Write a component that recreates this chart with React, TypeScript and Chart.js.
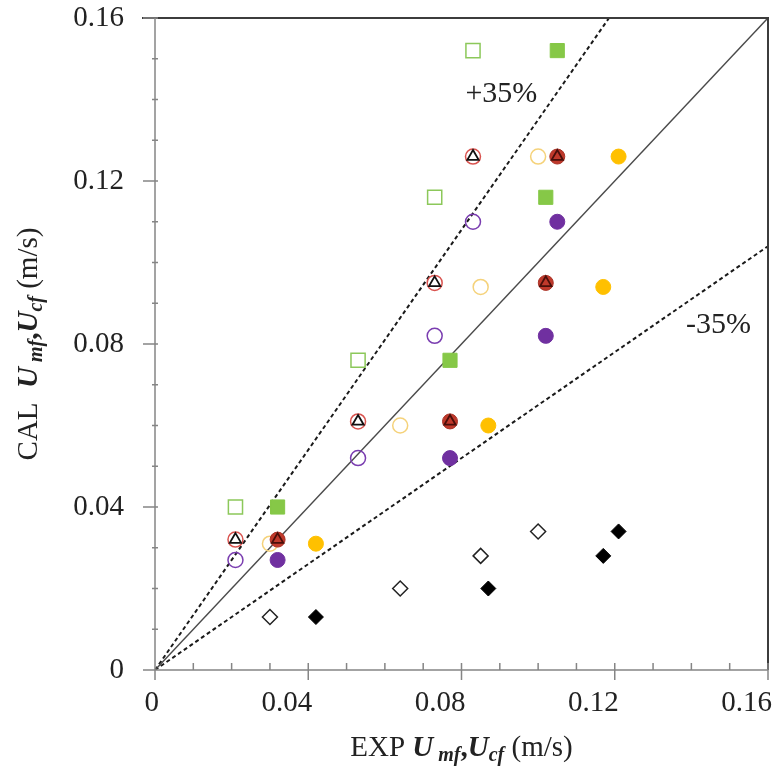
import React, { useEffect, useRef } from 'react';
import { Chart, registerables } from 'chart.js';
Chart.register(...registerables);

// EXP values (x)
const expUmfOpen = [0.021, 0.053, 0.073, 0.083];
const expUmfFilled = [0.032, 0.077, 0.102, 0.105];
const expUcfOpen = [0.030, 0.064, 0.085, 0.100];
const expUcfFilled = [0.042, 0.087, 0.117, 0.121];
// CAL values (y)
const calGreen = [0.040, 0.076, 0.116, 0.152];
const calRed = [0.032, 0.061, 0.095, 0.126];
const calYellow = [0.031, 0.060, 0.094, 0.126];
const calPurple = [0.027, 0.052, 0.082, 0.110];
const calDiamond = [0.013, 0.020, 0.028, 0.034];
// reference lines
const diagX = [0, 0.16];
const diagY = [0, 0.16];
const plus35X = [0, 0.1185];
const plus35Y = [0, 0.16];
const minus35X = [0, 0.16];
const minus35Y = [0, 0.104];
// annotations
const annotationText = ['+35%', '-35%'];
const annotationX = [0.0904, 0.1471];
const annotationY = [0.1394, 0.0827];
// ticks
const majorTicks = [0, 0.04, 0.08, 0.12, 0.16];
const minorTicks = [0.01, 0.02, 0.03, 0.05, 0.06, 0.07, 0.09, 0.1, 0.11, 0.13, 0.14, 0.15];

const SERIF = '"Liberation Serif", "Times New Roman", serif';

const pts = (xs: number[], ys: number[]) => xs.map((x, i) => ({ x, y: ys[i] }));

type Part = { t: string; f: string; dy?: number };

function drawRich(ctx: CanvasRenderingContext2D, parts: Part[], cx: number, baseline: number) {
  let total = 0;
  for (const p of parts) { ctx.font = p.f; total += ctx.measureText(p.t).width; }
  let x = cx - total / 2;
  ctx.textAlign = 'left';
  ctx.textBaseline = 'alphabetic';
  for (const p of parts) {
    ctx.font = p.f;
    ctx.fillText(p.t, x, baseline + (p.dy || 0));
    x += ctx.measureText(p.t).width;
  }
}

const titleParts = (prefix: string): Part[] => [
  { t: prefix, f: `29px ${SERIF}` },
  { t: 'U', f: `italic bold 29px ${SERIF}` },
  { t: ' mf', f: `italic bold 20px ${SERIF}`, dy: 5 },
  { t: ',', f: `bold 29px ${SERIF}` },
  { t: 'U', f: `italic bold 29px ${SERIF}` },
  { t: 'cf', f: `italic bold 20px ${SERIF}`, dy: 5 },
  { t: ' (m/s)', f: `29px ${SERIF}` },
];

const decorPlugin = {
  id: 'decor',
  afterDraw(chart: any) {
    const { ctx, chartArea: ca, scales } = chart;
    const xs = scales.x, ys = scales.y;
    ctx.save();
    // frame top/right
    ctx.strokeStyle = '#3c3c3c';
    ctx.lineWidth = 2;
    ctx.beginPath();
    ctx.moveTo(ca.left - 13, ca.top);
    ctx.lineTo(ca.right, ca.top);
    ctx.lineTo(ca.right, ca.bottom);
    ctx.stroke();
    // axes
    ctx.strokeStyle = '#858585';
    ctx.lineWidth = 1.5;
    ctx.beginPath();
    ctx.moveTo(ca.left, ca.top);
    ctx.lineTo(ca.left, ca.bottom);
    ctx.lineTo(ca.right, ca.bottom);
    for (const v of majorTicks) {
      const px = xs.getPixelForValue(v);
      ctx.moveTo(px, ca.bottom - 7);
      ctx.lineTo(px, ca.bottom + 10);
      const py = ys.getPixelForValue(v);
      ctx.moveTo(ca.left - 12, py);
      ctx.lineTo(ca.left + 3, py);
    }
    for (const v of minorTicks) {
      const px = xs.getPixelForValue(v);
      ctx.moveTo(px, ca.bottom - 7);
      ctx.lineTo(px, ca.bottom);
      const py = ys.getPixelForValue(v);
      ctx.moveTo(ca.left - 3, py);
      ctx.lineTo(ca.left + 3, py);
    }
    ctx.stroke();
    // annotations
    ctx.fillStyle = '#222';
    ctx.font = `30px ${SERIF}`;
    ctx.textAlign = 'center';
    ctx.textBaseline = 'alphabetic';
    annotationText.forEach((t, i) => {
      ctx.fillText(t, xs.getPixelForValue(annotationX[i]), ys.getPixelForValue(annotationY[i]));
    });
    // axis titles
    drawRich(ctx, titleParts('EXP '), (ca.left + ca.right) / 2, 756);
    ctx.translate(37, (ca.top + ca.bottom) / 2);
    ctx.rotate(-Math.PI / 2);
    drawRich(ctx, titleParts('CAL  '), 0, 0);
    ctx.restore();
  },
};

const zeroPad = (s: any) => { s.paddingTop = 0; s.paddingBottom = 0; s.paddingLeft = 0; s.paddingRight = 0; };

export default function App() {
  const ref = useRef<HTMLCanvasElement>(null);
  useEffect(() => {
    if (!ref.current) return;
    const marker = (label: string, data: any[], style: string, r: number, fill: string, border: string, bw: number, order: number) => ({
      label, data, pointStyle: style, pointRadius: r, pointHoverRadius: r,
      backgroundColor: fill, borderColor: border, pointBorderWidth: bw, borderWidth: bw, showLine: false, order,
    });
    const line = (label: string, data: any[], color: string, width: number, dash: number[]) => ({
      label, data, showLine: true, borderColor: color, borderWidth: width, borderDash: dash,
      pointRadius: 0, fill: false, order: 20,
    });
    const chart = new Chart(ref.current, {
      type: 'scatter',
      data: {
        datasets: [
          line('y=x', pts(diagX, diagY), '#4a4a4a', 1.5, []),
          line('+35%', pts(plus35X, plus35Y), '#1a1a1a', 2, [4, 3]),
          line('-35%', pts(minus35X, minus35Y), '#1a1a1a', 2, [4, 3]),
          marker('green open', pts(expUmfOpen, calGreen), 'rect', 10, 'rgba(255,255,255,0)', '#8CC85A', 1.5, 5),
          marker('green filled', pts(expUmfFilled, calGreen), 'rect', 10, '#86C847', '#86C847', 1, 5),
          marker('red open', pts(expUmfOpen, calRed), 'circle', 7.5, 'rgba(255,255,255,0)', '#D9534F', 1.5, 5),
          marker('red filled', pts(expUmfFilled, calRed), 'circle', 7.5, '#C0392B', '#A93226', 1, 5),
          marker('tri open', pts(expUmfOpen, calRed), 'triangle', 6.5, 'rgba(255,255,255,0)', '#111', 1.8, 1),
          marker('tri filled', pts(expUmfFilled, calRed), 'triangle', 6.5, 'rgba(255,255,255,0)', '#4a0f0a', 1.8, 1),
          marker('yellow open', pts(expUcfOpen, calYellow), 'circle', 7.5, 'rgba(255,255,255,0)', '#F5D27A', 1.5, 5),
          marker('yellow filled', pts(expUcfFilled, calYellow), 'circle', 7.5, '#FFC000', '#FFC000', 1, 5),
          marker('purple open', pts(expUmfOpen, calPurple), 'circle', 7.5, 'rgba(255,255,255,0)', '#7A3DB0', 1.5, 5),
          marker('purple filled', pts(expUmfFilled, calPurple), 'circle', 7.5, '#7030A0', '#7030A0', 1, 5),
          marker('diamond open', pts(expUcfOpen, calDiamond), 'rectRot', 7.5, 'rgba(255,255,255,0)', '#222', 1.5, 5),
          marker('diamond filled', pts(expUcfFilled, calDiamond), 'rectRot', 7.5, '#000', '#000', 1, 5),
        ] as any,
      },
      options: {
        animation: false,
        responsive: false,
        devicePixelRatio: 1,
        layout: { autoPadding: false, padding: { top: 18, right: 5, left: 0, bottom: 0 } },
        plugins: { legend: { display: false }, tooltip: { enabled: false } },
        scales: {
          x: {
            type: 'linear', min: 0, max: 0.16,
            afterBuildTicks: (s: any) => { s.ticks = majorTicks.map(v => ({ value: v })); },
            afterFit: (s: any) => { s.height = 99; zeroPad(s); },
            grid: { display: false, drawTicks: false },
            border: { display: false },
            ticks: {
              align: 'end', padding: 16, labelOffset: 4, color: '#222',
              font: { family: SERIF, size: 29 },
              callback: (v: any) => String(Number(v)),
            },
          },
          y: {
            type: 'linear', min: 0, max: 0.16,
            afterBuildTicks: (s: any) => { s.ticks = majorTicks.map(v => ({ value: v })); },
            afterFit: (s: any) => { s.width = 155; zeroPad(s); },
            grid: { display: false, drawTicks: false },
            border: { display: false },
            ticks: {
              padding: 31, color: '#222',
              font: { family: SERIF, size: 29 },
              callback: (v: any) => String(Number(v)),
            },
          },
        },
      } as any,
      plugins: [decorPlugin],
    });
    return () => chart.destroy();
  }, []);
  return (
    <div style={{ position: 'fixed', left: 0, top: 0, width: 773, height: 769, background: '#fff' }}>
      <canvas ref={ref} width={773} height={769} style={{ width: 773, height: 769 }} />
    </div>
  );
}
